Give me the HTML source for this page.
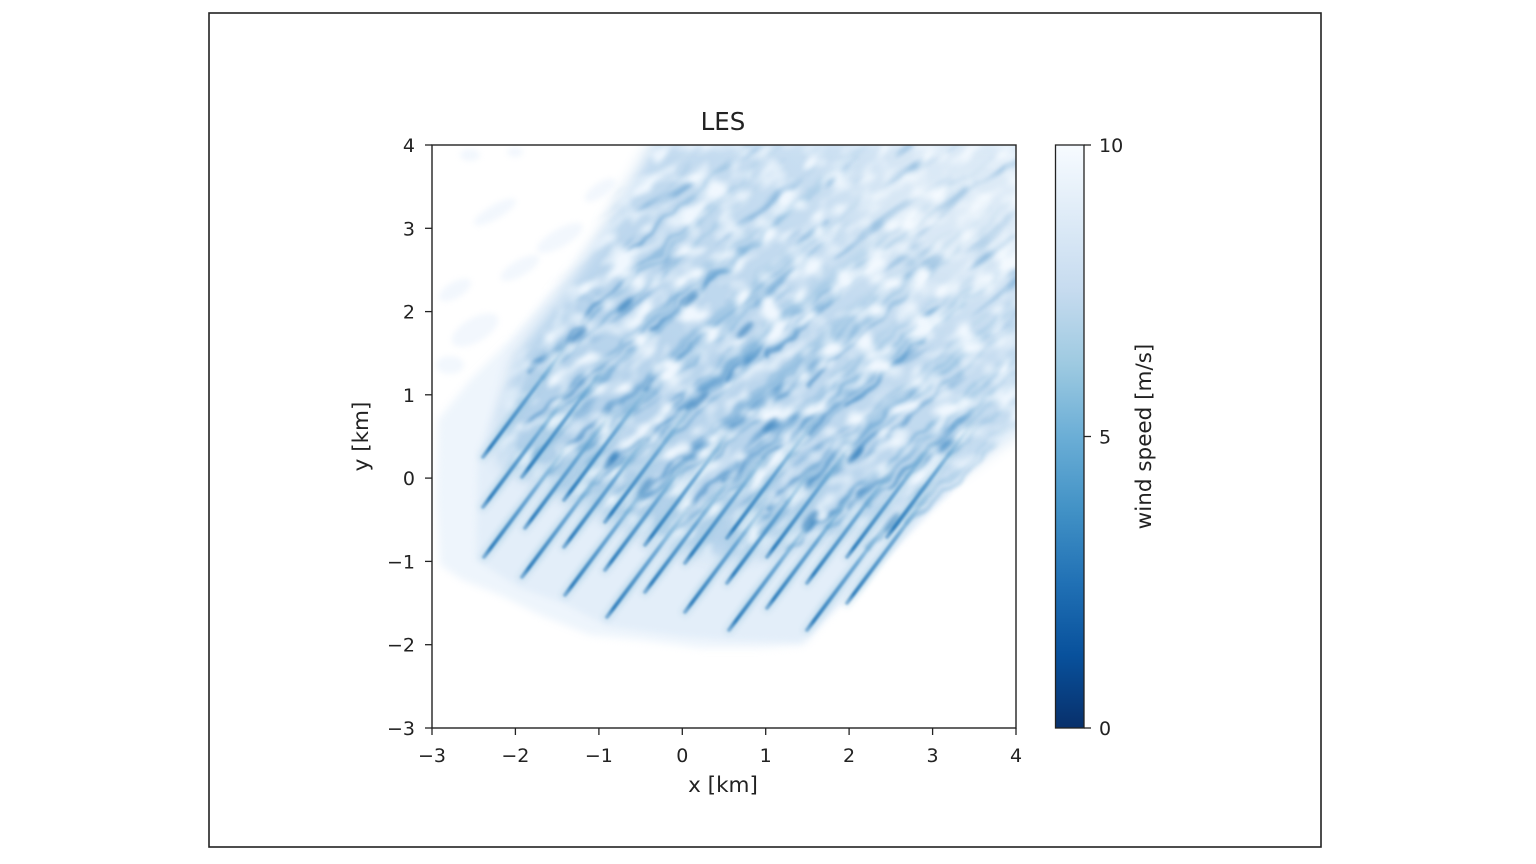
<!DOCTYPE html>
<html><head><meta charset="utf-8"><style>html,body{margin:0;padding:0;background:#fff;width:1536px;height:864px;overflow:hidden;}svg{display:block;}text{font-family:"DejaVu Sans","Liberation Sans",sans-serif;fill:#222;}</style></head>
<body>
<svg width="1536" height="864" viewBox="0 0 1536 864" xmlns="http://www.w3.org/2000/svg">
<defs>
 <clipPath id="plot"><rect x="432" y="145" width="584" height="583"/></clipPath>
 <filter id="b4" x="-20%" y="-20%" width="140%" height="140%" color-interpolation-filters="sRGB"><feGaussianBlur stdDeviation="4"/></filter>
 <filter id="b3" x="-20%" y="-20%" width="140%" height="140%" color-interpolation-filters="sRGB"><feGaussianBlur stdDeviation="3"/></filter>
 <filter id="b8" x="-20%" y="-20%" width="140%" height="140%" color-interpolation-filters="sRGB"><feGaussianBlur stdDeviation="8"/></filter>
 <filter id="b30" x="-50%" y="-50%" width="200%" height="200%" color-interpolation-filters="sRGB"><feGaussianBlur stdDeviation="30"/></filter>
 <filter id="b1" filterUnits="userSpaceOnUse" x="420" y="130" width="610" height="610" color-interpolation-filters="sRGB"><feGaussianBlur stdDeviation="1.1"/></filter>
 <filter id="b2" filterUnits="userSpaceOnUse" x="420" y="130" width="610" height="610" color-interpolation-filters="sRGB"><feGaussianBlur stdDeviation="2.5"/></filter>
 <filter id="wig" filterUnits="userSpaceOnUse" x="420" y="130" width="610" height="610" color-interpolation-filters="sRGB">
  <feTurbulence type="fractalNoise" baseFrequency="0.04" numOctaves="2" seed="5" result="t"/>
  <feDisplacementMap in="SourceGraphic" in2="t" scale="14" xChannelSelector="R" yChannelSelector="G" result="d"/>
  <feGaussianBlur in="d" stdDeviation="1.8"/>
 </filter>
 <filter id="blob" filterUnits="userSpaceOnUse" x="344" y="16" width="660" height="680" color-interpolation-filters="sRGB">
  <feTurbulence type="fractalNoise" baseFrequency="0.06 0.035" numOctaves="2" seed="11" result="n"/>
  <feColorMatrix in="n" type="matrix" values="0 0 0 0 0.94  0 0 0 0 0.97  0 0 0 0 0.995  3.4 0 0 0 -1.5"/>
  <feGaussianBlur stdDeviation="2"/>
 </filter>
 <filter id="fil" filterUnits="userSpaceOnUse" x="344" y="16" width="660" height="680" color-interpolation-filters="sRGB">
  <feTurbulence type="fractalNoise" baseFrequency="0.07 0.014" numOctaves="2" seed="3" result="n"/>
  <feColorMatrix in="n" type="matrix" values="0 0 0 0 0.25  0 0 0 0 0.54  0 0 0 0 0.77  0 -4 0 0 1.55"/>
  <feGaussianBlur stdDeviation="1.6"/>
 </filter>
 <mask id="dense" maskUnits="userSpaceOnUse" x="420" y="130" width="620" height="640">
  <polygon filter="url(#b8)" fill="#fff" points="517,358 544,320 577,275 608,225 636,175 655,140 1030,140 1030,420 965,468 905,505 845,532 785,548 725,558 665,545 605,515 545,485 500,462 502,420"/>
 </mask>
 <linearGradient id="dg" x1="0" y1="1" x2="1" y2="0">
  <stop offset="0" stop-color="#a9cbe7"/>
  <stop offset="0.5" stop-color="#b8d4ec"/>
  <stop offset="1" stop-color="#d2e4f4"/>
 </linearGradient>
 <linearGradient id="sg" x1="0" y1="1" x2="1" y2="0">
  <stop offset="0" stop-color="#2b7bba" stop-opacity="0.5"/>
  <stop offset="0.08" stop-color="#2b7bba" stop-opacity="0.95"/>
  <stop offset="0.6" stop-color="#4a92c9" stop-opacity="0.7"/>
  <stop offset="1" stop-color="#6aaed6" stop-opacity="0"/>
 </linearGradient>
 <linearGradient id="hg" x1="0" y1="1" x2="1" y2="0">
  <stop offset="0" stop-color="#9ecae1" stop-opacity="0.2"/>
  <stop offset="0.2" stop-color="#9ecae1" stop-opacity="0.45"/>
  <stop offset="1" stop-color="#9ecae1" stop-opacity="0.1"/>
 </linearGradient>
 <linearGradient id="cg" x1="0" y1="1" x2="1" y2="0">
  <stop offset="0" stop-color="#4a92c9" stop-opacity="0.45"/>
  <stop offset="0.5" stop-color="#5a9fd0" stop-opacity="0.28"/>
  <stop offset="1" stop-color="#6aaed6" stop-opacity="0.06"/>
 </linearGradient>
 <linearGradient id="ig" x1="0" y1="1" x2="1" y2="0">
  <stop offset="0" stop-color="#2f7dbd" stop-opacity="0.6"/>
  <stop offset="0.3" stop-color="#4a92c9" stop-opacity="0.38"/>
  <stop offset="1" stop-color="#6aaed6" stop-opacity="0.06"/>
 </linearGradient>
 <linearGradient id="cbar" x1="0" y1="0" x2="0" y2="1">
  <stop offset="0" stop-color="#f7fbff"/>
  <stop offset="0.125" stop-color="#deebf7"/>
  <stop offset="0.25" stop-color="#c6dbef"/>
  <stop offset="0.375" stop-color="#9ecae1"/>
  <stop offset="0.5" stop-color="#6baed6"/>
  <stop offset="0.625" stop-color="#4292c6"/>
  <stop offset="0.75" stop-color="#2171b5"/>
  <stop offset="0.875" stop-color="#08519c"/>
  <stop offset="1" stop-color="#08306b"/>
 </linearGradient>
</defs>

<rect x="0" y="0" width="1536" height="864" fill="#fff"/>
<rect x="209" y="13" width="1112" height="834" fill="none" stroke="#222" stroke-width="1.6"/>

<g clip-path="url(#plot)">
 <rect x="432" y="145" width="584" height="583" fill="#fff"/>
 <polygon filter="url(#b4)" fill="#eef5fc" points="438,420 470,380 510,340 545,300 590,250 630,195 660,145 1016,145 1016,420 830,615 805,645 760,648 700,648 640,640 590,635 540,615 500,595 462,580 440,565 436,500"/>
 <g fill="#f2f7fd" filter="url(#b3)">
  <ellipse cx="470" cy="155" rx="10" ry="6"/>
  <ellipse cx="515" cy="152" rx="8" ry="5"/>
  <ellipse cx="495" cy="212" rx="24" ry="7" transform="rotate(-30 495 212)"/>
  <ellipse cx="560" cy="238" rx="26" ry="9" transform="rotate(-30 560 238)"/>
  <ellipse cx="455" cy="290" rx="18" ry="8" transform="rotate(-30 455 290)"/>
  <ellipse cx="520" cy="268" rx="22" ry="8" transform="rotate(-30 520 268)"/>
  <ellipse cx="475" cy="330" rx="26" ry="12" transform="rotate(-30 475 330)"/>
  <ellipse cx="450" cy="365" rx="14" ry="9"/>
  <ellipse cx="600" cy="190" rx="18" ry="7" transform="rotate(-35 600 190)"/>
 </g>
 <polygon filter="url(#b3)" fill="#e3eef9" points="478,452 476,560 520,588 563,603 607,626 680,636 727,640 800,642 812,632 1016,424 1016,145 662,145 567,300 517,352"/>
 <rect x="432" y="145" width="584" height="583" fill="url(#dg)" mask="url(#dense)"/>

 <g filter="url(#wig)" stroke-linecap="round">
  <g stroke="url(#cg)" stroke-width="4">
   <line x1="543" y1="377" x2="768" y2="179"/>
   <line x1="543" y1="427" x2="768" y2="229"/>
   <line x1="544" y1="477" x2="769" y2="279"/>
   <line x1="582" y1="397" x2="807" y2="199"/>
   <line x1="585" y1="448" x2="810" y2="250"/>
   <line x1="582" y1="497" x2="807" y2="299"/>
   <line x1="624" y1="420" x2="849" y2="222"/>
   <line x1="624" y1="467" x2="849" y2="269"/>
   <line x1="625" y1="515" x2="850" y2="317"/>
   <line x1="665" y1="442" x2="890" y2="244"/>
   <line x1="665" y1="490" x2="890" y2="292"/>
   <line x1="667" y1="537" x2="892" y2="339"/>
   <line x1="705" y1="465" x2="930" y2="267"/>
   <line x1="705" y1="512" x2="930" y2="314"/>
   <line x1="745" y1="483" x2="970" y2="285"/>
   <line x1="745" y1="532" x2="970" y2="334"/>
   <line x1="787" y1="458" x2="1012" y2="260"/>
   <line x1="787" y1="503" x2="1012" y2="305"/>
   <line x1="789" y1="550" x2="1014" y2="352"/>
   <line x1="827" y1="477" x2="1016" y2="311"/>
   <line x1="827" y1="528" x2="1016" y2="362"/>
   <line x1="867" y1="503" x2="1016" y2="372"/>
   <line x1="867" y1="550" x2="1016" y2="419"/>
   <line x1="907" y1="477" x2="1016" y2="381"/>
   <line x1="907" y1="523" x2="1016" y2="427"/>
   <line x1="947" y1="457" x2="1016" y2="396"/>
  </g>
  <g stroke="url(#ig)" stroke-width="4">
   <line x1="523" y1="427" x2="748" y2="229"/>
   <line x1="530" y1="372" x2="755" y2="174"/>
   <line x1="564" y1="448" x2="789" y2="250"/>
   <line x1="564" y1="398" x2="789" y2="200"/>
   <line x1="580" y1="320" x2="780" y2="144"/>
   <line x1="604" y1="468" x2="829" y2="270"/>
   <line x1="604" y1="418" x2="829" y2="220"/>
   <line x1="620" y1="260" x2="750" y2="146"/>
   <line x1="645" y1="489" x2="870" y2="291"/>
   <line x1="645" y1="439" x2="870" y2="241"/>
   <line x1="645" y1="389" x2="870" y2="191"/>
   <line x1="650" y1="330" x2="860" y2="146"/>
   <line x1="685" y1="509" x2="910" y2="311"/>
   <line x1="685" y1="459" x2="910" y2="261"/>
   <line x1="685" y1="409" x2="910" y2="211"/>
   <line x1="690" y1="300" x2="865" y2="146"/>
   <line x1="726" y1="480" x2="951" y2="282"/>
   <line x1="726" y1="430" x2="951" y2="232"/>
   <line x1="726" y1="380" x2="951" y2="182"/>
   <line x1="766" y1="507" x2="991" y2="309"/>
   <line x1="766" y1="457" x2="991" y2="259"/>
   <line x1="766" y1="407" x2="991" y2="209"/>
   <line x1="766" y1="357" x2="991" y2="159"/>
   <line x1="807" y1="533" x2="1016" y2="349"/>
   <line x1="807" y1="483" x2="1016" y2="299"/>
   <line x1="807" y1="433" x2="1016" y2="249"/>
   <line x1="807" y1="383" x2="1016" y2="199"/>
   <line x1="847" y1="507" x2="1016" y2="358"/>
   <line x1="847" y1="457" x2="1016" y2="308"/>
   <line x1="847" y1="407" x2="1016" y2="258"/>
   <line x1="887" y1="487" x2="1016" y2="373"/>
   <line x1="887" y1="437" x2="1016" y2="323"/>
  </g>
 </g>

 <g mask="url(#dense)">
  <g transform="rotate(53 724 436)">
   <rect x="344" y="16" width="660" height="680" filter="url(#fil)" opacity="0.7"/>
   <rect x="344" y="16" width="660" height="680" filter="url(#blob)"/>
  </g>
  <ellipse cx="960" cy="210" rx="110" ry="80" fill="#fff" opacity="0.3" filter="url(#b30)"/>
 </g>

 <g fill="#2a78b8" opacity="0.6" filter="url(#b2)">
  <ellipse cx="645" cy="487" rx="11" ry="3.5" transform="rotate(-53 645 487)"/>
  <ellipse cx="810" cy="520" rx="12" ry="4" transform="rotate(-53 810 520)"/>
  <ellipse cx="892" cy="523" rx="12" ry="4" transform="rotate(-53 892 523)"/>
  <ellipse cx="700" cy="400" rx="11" ry="3.5" transform="rotate(-45 700 400)"/>
  <ellipse cx="578" cy="335" rx="11" ry="3.5" transform="rotate(-40 578 335)"/>
  <ellipse cx="745" cy="330" rx="11" ry="3.5" transform="rotate(-45 745 330)"/>
  <ellipse cx="855" cy="455" rx="11" ry="3.5" transform="rotate(-50 855 455)"/>
  <ellipse cx="770" cy="425" rx="10" ry="3.5" transform="rotate(-45 770 425)"/>
  <ellipse cx="612" cy="460" rx="10" ry="3.5" transform="rotate(-53 612 460)"/>
  <ellipse cx="625" cy="305" rx="10" ry="3.5" transform="rotate(-40 625 305)"/>
  <ellipse cx="690" cy="300" rx="10" ry="3.5" transform="rotate(-40 690 300)"/>
 </g>

 <g stroke="url(#hg)" stroke-width="11" stroke-linecap="round" filter="url(#b2)">
  <line x1="483" y1="457" x2="567" y2="345"/>
  <line x1="483" y1="507" x2="567" y2="395"/>
  <line x1="484" y1="557" x2="568" y2="445"/>
  <line x1="522" y1="477" x2="606" y2="365"/>
  <line x1="525" y1="528" x2="609" y2="416"/>
  <line x1="522" y1="577" x2="606" y2="465"/>
  <line x1="564" y1="500" x2="648" y2="388"/>
  <line x1="564" y1="547" x2="648" y2="435"/>
  <line x1="565" y1="595" x2="649" y2="483"/>
  <line x1="605" y1="522" x2="689" y2="410"/>
  <line x1="605" y1="570" x2="689" y2="458"/>
  <line x1="607" y1="617" x2="691" y2="505"/>
  <line x1="645" y1="545" x2="729" y2="433"/>
  <line x1="645" y1="592" x2="729" y2="480"/>
  <line x1="685" y1="563" x2="769" y2="451"/>
  <line x1="685" y1="612" x2="769" y2="500"/>
  <line x1="727" y1="538" x2="811" y2="426"/>
  <line x1="727" y1="583" x2="811" y2="471"/>
  <line x1="729" y1="630" x2="813" y2="518"/>
  <line x1="767" y1="557" x2="851" y2="445"/>
  <line x1="767" y1="608" x2="851" y2="496"/>
  <line x1="807" y1="583" x2="891" y2="471"/>
  <line x1="807" y1="630" x2="891" y2="518"/>
  <line x1="847" y1="557" x2="931" y2="445"/>
  <line x1="847" y1="603" x2="931" y2="491"/>
  <line x1="887" y1="537" x2="971" y2="425"/>
 </g>
 <g stroke="url(#sg)" stroke-width="3.8" stroke-linecap="round" filter="url(#b1)">
  <line x1="483" y1="457" x2="567" y2="345"/>
  <line x1="483" y1="507" x2="567" y2="395"/>
  <line x1="484" y1="557" x2="568" y2="445"/>
  <line x1="522" y1="477" x2="606" y2="365"/>
  <line x1="525" y1="528" x2="609" y2="416"/>
  <line x1="522" y1="577" x2="606" y2="465"/>
  <line x1="564" y1="500" x2="648" y2="388"/>
  <line x1="564" y1="547" x2="648" y2="435"/>
  <line x1="565" y1="595" x2="649" y2="483"/>
  <line x1="605" y1="522" x2="689" y2="410"/>
  <line x1="605" y1="570" x2="689" y2="458"/>
  <line x1="607" y1="617" x2="691" y2="505"/>
  <line x1="645" y1="545" x2="729" y2="433"/>
  <line x1="645" y1="592" x2="729" y2="480"/>
  <line x1="685" y1="563" x2="769" y2="451"/>
  <line x1="685" y1="612" x2="769" y2="500"/>
  <line x1="727" y1="538" x2="811" y2="426"/>
  <line x1="727" y1="583" x2="811" y2="471"/>
  <line x1="729" y1="630" x2="813" y2="518"/>
  <line x1="767" y1="557" x2="851" y2="445"/>
  <line x1="767" y1="608" x2="851" y2="496"/>
  <line x1="807" y1="583" x2="891" y2="471"/>
  <line x1="807" y1="630" x2="891" y2="518"/>
  <line x1="847" y1="557" x2="931" y2="445"/>
  <line x1="847" y1="603" x2="931" y2="491"/>
  <line x1="887" y1="537" x2="971" y2="425"/>
 </g>
</g>

<rect x="432" y="145" width="584" height="583" fill="none" stroke="#222" stroke-width="1.4"/>

<g stroke="#222" stroke-width="1.3">
 <line x1="432" y1="728" x2="432" y2="735"/>
 <line x1="515.4" y1="728" x2="515.4" y2="735"/>
 <line x1="598.9" y1="728" x2="598.9" y2="735"/>
 <line x1="682.3" y1="728" x2="682.3" y2="735"/>
 <line x1="765.7" y1="728" x2="765.7" y2="735"/>
 <line x1="849.1" y1="728" x2="849.1" y2="735"/>
 <line x1="932.6" y1="728" x2="932.6" y2="735"/>
 <line x1="1016" y1="728" x2="1016" y2="735"/>
 <line x1="425" y1="728" x2="432" y2="728"/>
 <line x1="425" y1="644.7" x2="432" y2="644.7"/>
 <line x1="425" y1="561.4" x2="432" y2="561.4"/>
 <line x1="425" y1="478.1" x2="432" y2="478.1"/>
 <line x1="425" y1="394.8" x2="432" y2="394.8"/>
 <line x1="425" y1="311.6" x2="432" y2="311.6"/>
 <line x1="425" y1="228.3" x2="432" y2="228.3"/>
 <line x1="425" y1="145" x2="432" y2="145"/>
</g>
<g font-size="19" text-anchor="middle">
 <text x="432" y="762">−3</text>
 <text x="515.4" y="762">−2</text>
 <text x="598.9" y="762">−1</text>
 <text x="682.3" y="762">0</text>
 <text x="765.7" y="762">1</text>
 <text x="849.1" y="762">2</text>
 <text x="932.6" y="762">3</text>
 <text x="1016" y="762">4</text>
</g>
<g font-size="19" text-anchor="end">
 <text x="415" y="735">−3</text>
 <text x="415" y="651.7">−2</text>
 <text x="415" y="568.4">−1</text>
 <text x="415" y="485.1">0</text>
 <text x="415" y="401.8">1</text>
 <text x="415" y="318.6">2</text>
 <text x="415" y="235.3">3</text>
 <text x="415" y="152">4</text>
</g>
<text x="723" y="792" font-size="21.5" text-anchor="middle">x [km]</text>
<text transform="translate(368 436.5) rotate(-90)" font-size="21.5" text-anchor="middle">y [km]</text>
<text x="723" y="130" font-size="24.5" text-anchor="middle">LES</text>

<rect x="1055.5" y="145" width="28.5" height="583" fill="url(#cbar)" stroke="#222" stroke-width="1.3"/>
<g stroke="#222" stroke-width="1.3">
 <line x1="1084" y1="145" x2="1091" y2="145"/>
 <line x1="1084" y1="436.5" x2="1091" y2="436.5"/>
 <line x1="1084" y1="728" x2="1091" y2="728"/>
</g>
<g font-size="19">
 <text x="1099" y="152">10</text>
 <text x="1099" y="443.5">5</text>
 <text x="1099" y="735">0</text>
</g>
<text transform="translate(1151 436.5) rotate(-90)" font-size="21.5" text-anchor="middle">wind speed [m/s]</text>
</svg>
</body></html>
